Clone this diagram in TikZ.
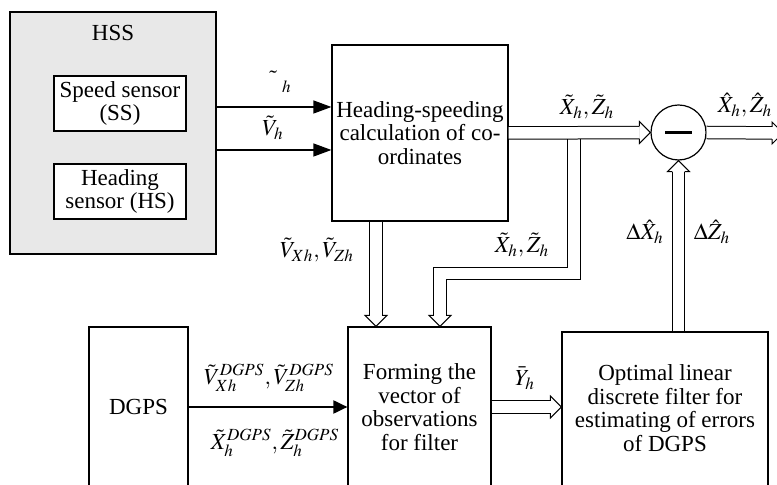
\documentclass[tikz,border=0pt]{standalone}
\usepackage{mathptmx}
\usepackage{fontspec}
\setmainfont{Liberation Serif}
\usetikzlibrary{arrows.meta}

\definecolor{hssgray}{RGB}{232,232,232}

\tikzset{
  block/.style={draw, line width=0.6pt, align=center, inner sep=0pt, font=\fontsize{11.5}{11.8}\selectfont},
  lbl/.style={inner sep=0pt, align=center, font=\fontsize{11.5}{11.8}\selectfont},
  sarrow/.style={line width=0.6pt, -{Triangle[length=9pt,width=6.5pt]}},
  pipe/.style={line width=0.5pt, double, double distance=5.75pt, shorten >=5.5pt},
  pipehead/.pic={
    \fill[white] (0,0) -- (-5.5pt,5.5pt) -- (-5.5pt,-5.5pt) -- cycle;
    \draw[line width=0.5pt] (-5.5pt,3.1pt) -- (-5.5pt,5.5pt) -- (0,0) -- (-5.5pt,-5.5pt) -- (-5.5pt,-3.1pt);
  }
}

\begin{document}
\begin{tikzpicture}[x=0.5pt, y=-0.5pt]

\useasboundingbox (0,0) rectangle (777,485);
\clip (0,0) rectangle (777,485);

% blocks
\node[block, fill=hssgray, minimum width=103pt, minimum height=121pt] (hss) at (113,133) {};
\node[lbl] (hsstitle) at (113,33) {HSS};
\node[block, fill=white, minimum width=66pt, minimum height=27.5pt] (ss) at (120,103.5) {Speed sensor\\(SS)};
\node[block, fill=white, minimum width=66pt, minimum height=27.5pt] (hs) at (120,191.5) {Heading\\sensor (HS)};
\node[block, minimum width=88pt, minimum height=88pt] (calc) at (420,133) {Heading-speeding\\calculation of co-\\ordinates};
\node[draw, circle, line width=0.6pt, minimum size=27.5pt, inner sep=0pt] (sum) at (678.5,132.5) {\rule{13.5pt}{1.5pt}};
\node[block, minimum width=49.5pt, minimum height=80pt] (dgps) at (138.5,407) {DGPS};
\node[block, minimum width=71.5pt, minimum height=80pt] (form) at (419.5,407) {Forming the\\vector of\\observations\\for filter};
\node[block, minimum width=103pt, minimum height=88pt] (filt) at (665,420) {};
\node[lbl] (filttext) at (665,408) {Optimal linear\\discrete filter for\\estimating of errors\\of DGPS};

\coordinate (tap) at (574,133);
\coordinate (bend1) at (574,273.5);
\coordinate (bend2) at (440,273.5);
\coordinate (out) at (783,133);

% single arrows
\draw[sarrow] ([yshift=13pt]hss.east) -- ([yshift=13pt]calc.west);
\draw[sarrow] ([yshift=-8.5pt]hss.east) -- ([yshift=-8.5pt]calc.west);
\draw[sarrow, line width=1pt, -{Triangle[length=7pt,width=6.5pt]}] (dgps.east) -- (form.west);

% double arrows
\draw[pipe] (tap) -- (bend1) -- (bend2) -- (bend2 |- form.north);
\pic[rotate=-90] at (bend2 |- form.north) {pipehead};
\draw[pipe] (calc.east) -- (sum.west);
\pic at (sum.west) {pipehead};
\draw[pipe] (sum.east) -- (out);
\pic at (out) {pipehead};
\draw[pipe] ([xshift=-22pt]calc.south) -- ([xshift=-22pt]calc.south |- form.north);
\pic[rotate=-90] at ([xshift=-22pt]calc.south |- form.north) {pipehead};
\draw[pipe] (form.east) -- (form.east -| filt.west);
\pic at (form.east -| filt.west) {pipehead};
\draw[pipe] (sum.south |- filt.north) -- (sum.south);
\pic[rotate=90] at (sum.south) {pipehead};

% signal labels
\node[lbl] (lpsi) at (278,82) {$\tilde{\phantom{\psi}}_{h}$};
\node[lbl] (lvh) at (273,128) {$\tilde{V}_{h}$};
\node[lbl] (lxz) at (587,107) {$\tilde{X}_{h},\tilde{Z}_{h}$};
\node[lbl] (lxzhat) at (745,105) {$\hat{X}_{h},\hat{Z}_{h}$};
\node[lbl] (lvxz) at (317,250) {$\tilde{V}_{Xh},\tilde{V}_{Zh}$};
\node[lbl] (lxzb) at (522,245) {$\tilde{X}_{h},\tilde{Z}_{h}$};
\node[lbl] (ldx) at (645,232) {$\Delta\hat{X}_{h}$};
\node[lbl] (ldz) at (712,232) {$\Delta\hat{Z}_{h}$};
\node[lbl] (lvdgps) at (269,378) {$\tilde{V}_{Xh}^{DGPS},\tilde{V}_{Zh}^{DGPS}$};
\node[lbl] (lxdgps) at (275,443) {$\tilde{X}_{h}^{DGPS},\tilde{Z}_{h}^{DGPS}$};
\node[lbl] (ly) at (525,378) {$\bar{Y}_{h}$};

\end{tikzpicture}
\end{document}
